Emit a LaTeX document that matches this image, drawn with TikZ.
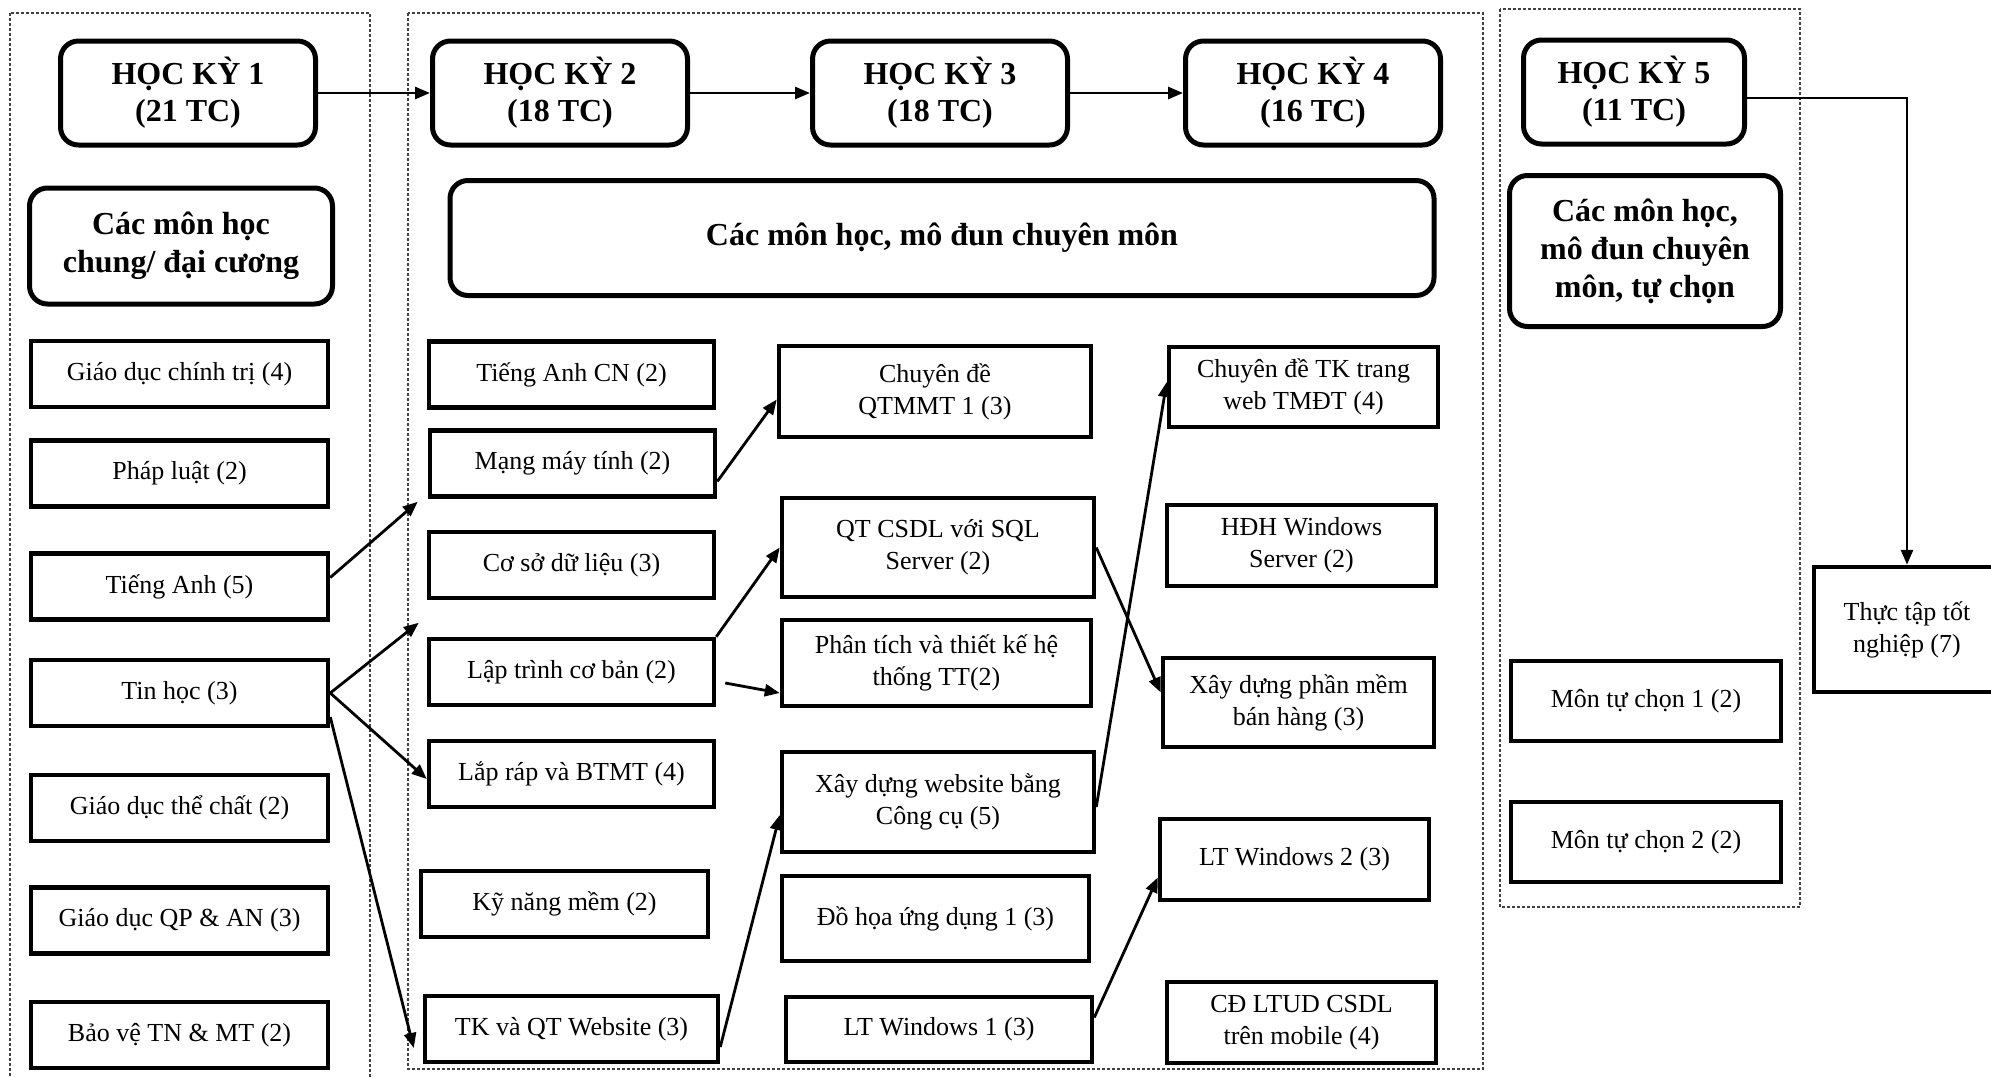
\documentclass[tikz,border=0pt]{standalone}
\usepackage{fontspec}
\setmainfont{Liberation Serif}
\usetikzlibrary{arrows.meta}

\begin{document}
\begin{tikzpicture}[x=1pt, y=-1pt,
    course/.style={draw, line width=4.5pt, inner sep=0pt, align=center, minimum height=66pt, font=\fontsize{26}{32}\selectfont},
    semester/.style={draw, line width=5pt, rounded corners=18pt, inner sep=0pt, align=center, minimum width=255pt, minimum height=104pt, font=\fontsize{32}{37}\selectfont\bfseries},
    group/.style={semester, font=\fontsize{32}{38}\selectfont\bfseries},
    frame/.style={draw=black!75, densely dashed, line width=1.2pt},
    arrow/.style={-{Triangle[length=15pt,width=12pt]}, line width=2.8pt},
]
    \useasboundingbox (0,0) rectangle (1991,1076);

    % dashed frames of the semesters
    \draw[frame] (10,13) rectangle (370,1090);
    \draw[frame] (408,13) rectangle (1483,1069);
    \draw[frame] (1500,9) rectangle (1800,907);

    % semesters
    \node[semester] (hk1) at (188,93) {HỌC KỲ 1\\(21 TC)};
    \node[semester] (hk2) at (560,93) {HỌC KỲ 2\\(18 TC)};
    \node[semester] (hk3) at (940,93) {HỌC KỲ 3\\(18 TC)};
    \node[semester] (hk4) at (1313,93) {HỌC KỲ 4\\(16 TC)};
    \node[semester, minimum width=221pt] (hk5) at (1634,92) {HỌC KỲ 5\\(11 TC)};

    \node[group, minimum width=303pt, minimum height=116pt] (general) at (181,246) {Các môn học\\chung/ đại cương};
    \node[group, minimum width=984pt, minimum height=115pt] (special) at (942,238) {Các môn học, mô đun chuyên môn};
    \node[group, minimum width=271pt, minimum height=151pt] (elective) at (1645,251) {Các môn học,\\mô đun chuyên\\môn, tự chọn};

    % semester 1
    \node[course, minimum width=297pt] (gdct) at (179.5,374) {Giáo dục chính trị (4)};
    \node[course, minimum width=297pt] (phapluat) at (179.5,473.5) {Pháp luật (2)};
    \node[course, minimum width=297pt] (tienganh) at (179.5,586.5) {Tiếng Anh (5)};
    \node[course, minimum width=297pt] (tinhoc) at (179.5,693) {Tin học (3)};
    \node[course, minimum width=297pt] (gdtc) at (179.5,808) {Giáo dục thể chất (2)};
    \node[course, minimum width=297pt] (gdqp) at (179.5,920.5) {Giáo dục QP \& AN (3)};
    \node[course, minimum width=297pt] (bvtn) at (179.5,1035) {Bảo vệ TN \& MT (2)};

    % semester 2
    \node[course, minimum width=285pt] (tacn) at (571.5,374.5) {Tiếng Anh CN (2)};
    \node[course, minimum width=285pt] (mang) at (572.5,463.5) {Mạng máy tính (2)};
    \node[course, minimum width=285pt] (csdl) at (571.5,565) {Cơ sở dữ liệu (3)};
    \node[course, minimum width=285pt] (laptrinh) at (571.5,672) {Lập trình cơ bản (2)};
    \node[course, minimum width=285pt] (laprap) at (571.5,774) {Lắp ráp và BTMT (4)};
    \node[course, minimum width=287pt] (knm) at (564.5,904) {Kỹ năng mềm (2)};
    \node[course, minimum width=293pt] (tkqt) at (571.5,1029) {TK và QT Website (3)};

    % semester 3
    \node[course, minimum width=312pt, minimum height=91pt] (qtmmt) at (935,391.5) {Chuyên đề\\QTMMT 1 (3)};
    \node[course, minimum width=312pt, minimum height=99pt] (qtcsdl) at (938,547.5) {QT CSDL với SQL\\Server (2)};
    \node[course, minimum width=309pt, minimum height=86pt] (phantich) at (936.5,663) {Phân tích và thiết kế hệ\\thống TT(2)};
    \node[course, minimum width=312pt, minimum height=100pt] (xdweb) at (938,802) {Xây dựng website bằng\\Công cụ (5)};
    \node[course, minimum width=307pt, minimum height=85pt] (dohoa) at (935.5,918.5) {Đồ họa ứng dụng 1 (3)};
    \node[course, minimum width=306pt, minimum height=65pt] (ltw1) at (939,1029.5) {LT Windows 1 (3)};

    % semester 4
    \node[course, minimum width=269pt, minimum height=80pt] (cdtk) at (1303.5,387) {Chuyên đề TK trang\\web TMĐT (4)};
    \node[course, minimum width=269pt, minimum height=81pt] (hdh) at (1301.5,545.5) {HĐH Windows\\Server (2)};
    \node[course, minimum width=271pt, minimum height=89pt] (xdpm) at (1298.5,702.5) {Xây dựng phần mềm\\bán hàng (3)};
    \node[course, minimum width=269pt, minimum height=81pt] (ltw2) at (1294.5,859.5) {LT Windows 2 (3)};
    \node[course, minimum width=269pt, minimum height=81pt] (cdltud) at (1301.5,1022.5) {CĐ LTUD CSDL\\trên mobile (4)};

    % semester 5
    \node[course, minimum width=270pt, minimum height=80pt] (tc1) at (1646,701) {Môn tự chọn 1 (2)};
    \node[course, minimum width=270pt, minimum height=80pt] (tc2) at (1646,842) {Môn tự chọn 2 (2)};
    \node[course, minimum width=186pt, minimum height=125pt] (thuctap) at (1907,629.5) {Thực tập tốt\\nghiệp (7)};

    \draw[arrow] (hk1) -- (hk2);
    \draw[arrow] (hk2) -- (hk3);
    \draw[arrow] (hk3) -- (hk4);
    \draw[arrow] ([yshift=-6pt]hk5.east) -| (thuctap.north);

    \draw[arrow] ([yshift=9pt]tienganh.east) -- ([xshift=-10pt,yshift=-3pt]mang.south west);
    \draw[arrow] (tinhoc.east) -- ([xshift=-8pt,yshift=14pt]laptrinh.north west);
    \draw[arrow] (tinhoc.east) -- ([yshift=-5pt]laprap.west);
    \draw[arrow] ([yshift=-24pt]tinhoc.east) -- ([xshift=-9pt,yshift=-19pt]tkqt.west);

    \draw[arrow] ([yshift=-18pt]mang.east) -- ([yshift=-8pt]qtmmt.west);
    \draw[arrow] (laptrinh.north east) -- (qtcsdl.west);
    \draw[arrow] ([xshift=9pt,yshift=-11pt]laptrinh.east) -- ([yshift=-30pt]phantich.west);
    \draw[arrow] ([yshift=-18pt]tkqt.east) -- ([yshift=-13pt]xdweb.west);

    \draw[arrow] (qtcsdl.east) -- ([yshift=10pt]xdpm.west);
    \draw[arrow] ([yshift=-5pt]xdweb.east) -- ([yshift=5pt]cdtk.west);
    \draw[arrow] ([yshift=12pt]ltw1.east) -- ([yshift=-18pt]ltw2.west);

\end{tikzpicture}
\end{document}
